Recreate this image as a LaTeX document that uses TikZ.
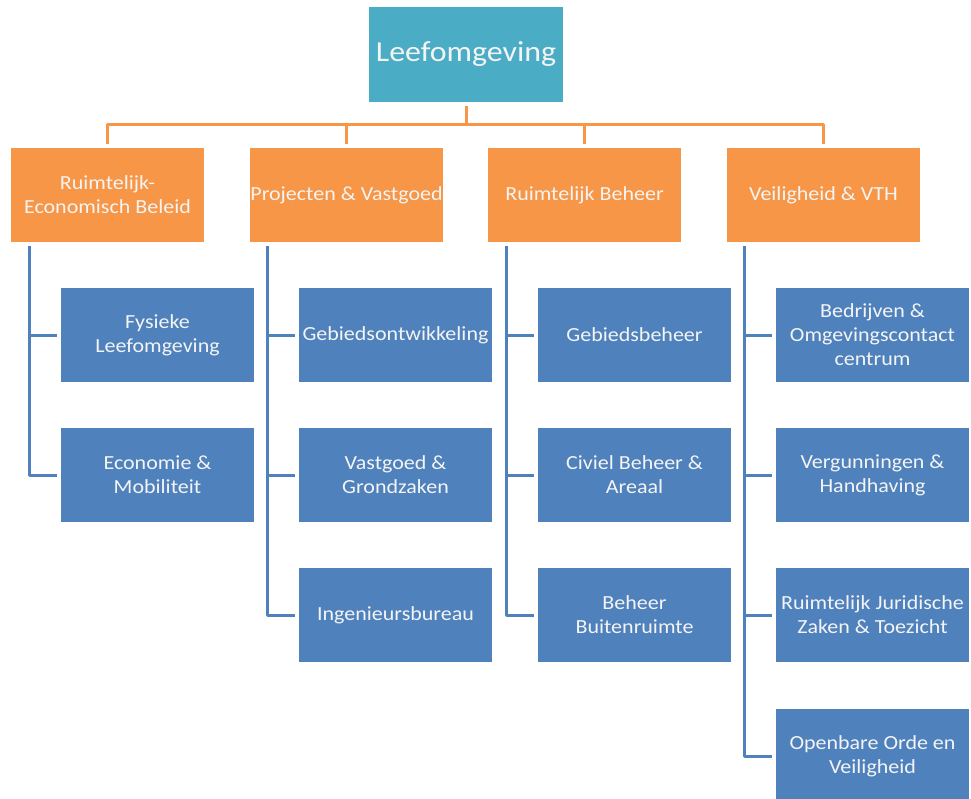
\documentclass[tikz,border=0pt]{standalone}
\usepackage{fontspec}
\setmainfont[FakeStretch=1.1]{Carlito}
\definecolor{topc}{HTML}{4BACC6}
\definecolor{orc}{HTML}{F79646}
\definecolor{blc}{HTML}{4F81BD}
\definecolor{txc}{HTML}{F4F4F4}
\tikzset{
  box/.style={minimum width=193pt, minimum height=94pt, inner sep=0pt, outer sep=4pt,
    align=center, text=txc, font=\fontsize{20}{24}\selectfont},
  topbox/.style={box, fill=topc, minimum width=194pt, minimum height=95pt, font=\fontsize{29}{34}\selectfont},
  obox/.style={box, fill=orc},
  bbox/.style={box, fill=blc},
  oline/.style={draw=orc, line width=3pt, line join=round},
  bline/.style={draw=blc, line width=3pt, line join=round}
}
\begin{document}
\begin{tikzpicture}[x=1pt, y=-1pt]
\useasboundingbox (0,0) rectangle (971,798);
\node[topbox] (top) at (466,54.5) {Leefomgeving};
\node[obox] (o1) at (107.5,195) {Ruimtelijk-\\Economisch Beleid};
\node[obox] (o2) at (346.5,195) {Projecten \& Vastgoed};
\node[obox] (o3) at (584.5,195) {Ruimtelijk Beheer};
\node[obox] (o4) at (823.5,195) {Veiligheid \& VTH};
\node[bbox] (b11) at (157.5,335) {Fysieke\\Leefomgeving};
\node[bbox] (b12) at (157.5,475) {Economie \&\\Mobiliteit};
\node[bbox] (b21) at (395.5,335) {Gebiedsontwikkeling};
\node[bbox] (b22) at (395.5,475) {Vastgoed \&\\Grondzaken};
\node[bbox] (b23) at (395.5,615) {Ingenieursbureau};
\node[bbox] (b31) at (634.5,335) {Gebiedsbeheer};
\node[bbox] (b32) at (634.5,475) {Civiel Beheer \&\\Areaal};
\node[bbox] (b33) at (634.5,615) {Beheer\\Buitenruimte};
\node[bbox] (b41) at (872.5,335) {Bedrijven \&\\Omgevingscontact\\centrum};
\node[bbox] (b42) at (872.5,475) {Vergunningen \&\\Handhaving};
\node[bbox] (b43) at (872.5,615) {Ruimtelijk Juridische\\Zaken \& Toezicht};
\node[bbox] (b44) at (872.5,756) {Openbare Orde en\\Veiligheid};
% orange bus
\coordinate (bus) at (0,124);
\draw[oline] (o1.north) |- (o4.north |- bus) -- (o4.north);
\draw[oline] (top.south) -- (top.south |- bus);
\draw[oline] (o2.north) -- (o2.north |- bus);
\draw[oline] (o3.north) -- (o3.north |- bus);
% blue trees
\coordinate (s1) at ([xshift=22pt]o1.south west);
\coordinate (s2) at ([xshift=21pt]o2.south west);
\coordinate (s3) at ([xshift=22pt]o3.south west);
\coordinate (s4) at ([xshift=21pt]o4.south west);
\draw[bline] (s1) |- (b12.west);
\draw[bline] (s1 |- b11.west) -- (b11.west);
\draw[bline] (s2) |- (b23.west);
\draw[bline] (s2 |- b21.west) -- (b21.west);
\draw[bline] (s2 |- b22.west) -- (b22.west);
\draw[bline] (s3) |- (b33.west);
\draw[bline] (s3 |- b31.west) -- (b31.west);
\draw[bline] (s3 |- b32.west) -- (b32.west);
\draw[bline] (s4) |- (b44.west);
\draw[bline] (s4 |- b41.west) -- (b41.west);
\draw[bline] (s4 |- b42.west) -- (b42.west);
\draw[bline] (s4 |- b43.west) -- (b43.west);
\end{tikzpicture}
\end{document}
